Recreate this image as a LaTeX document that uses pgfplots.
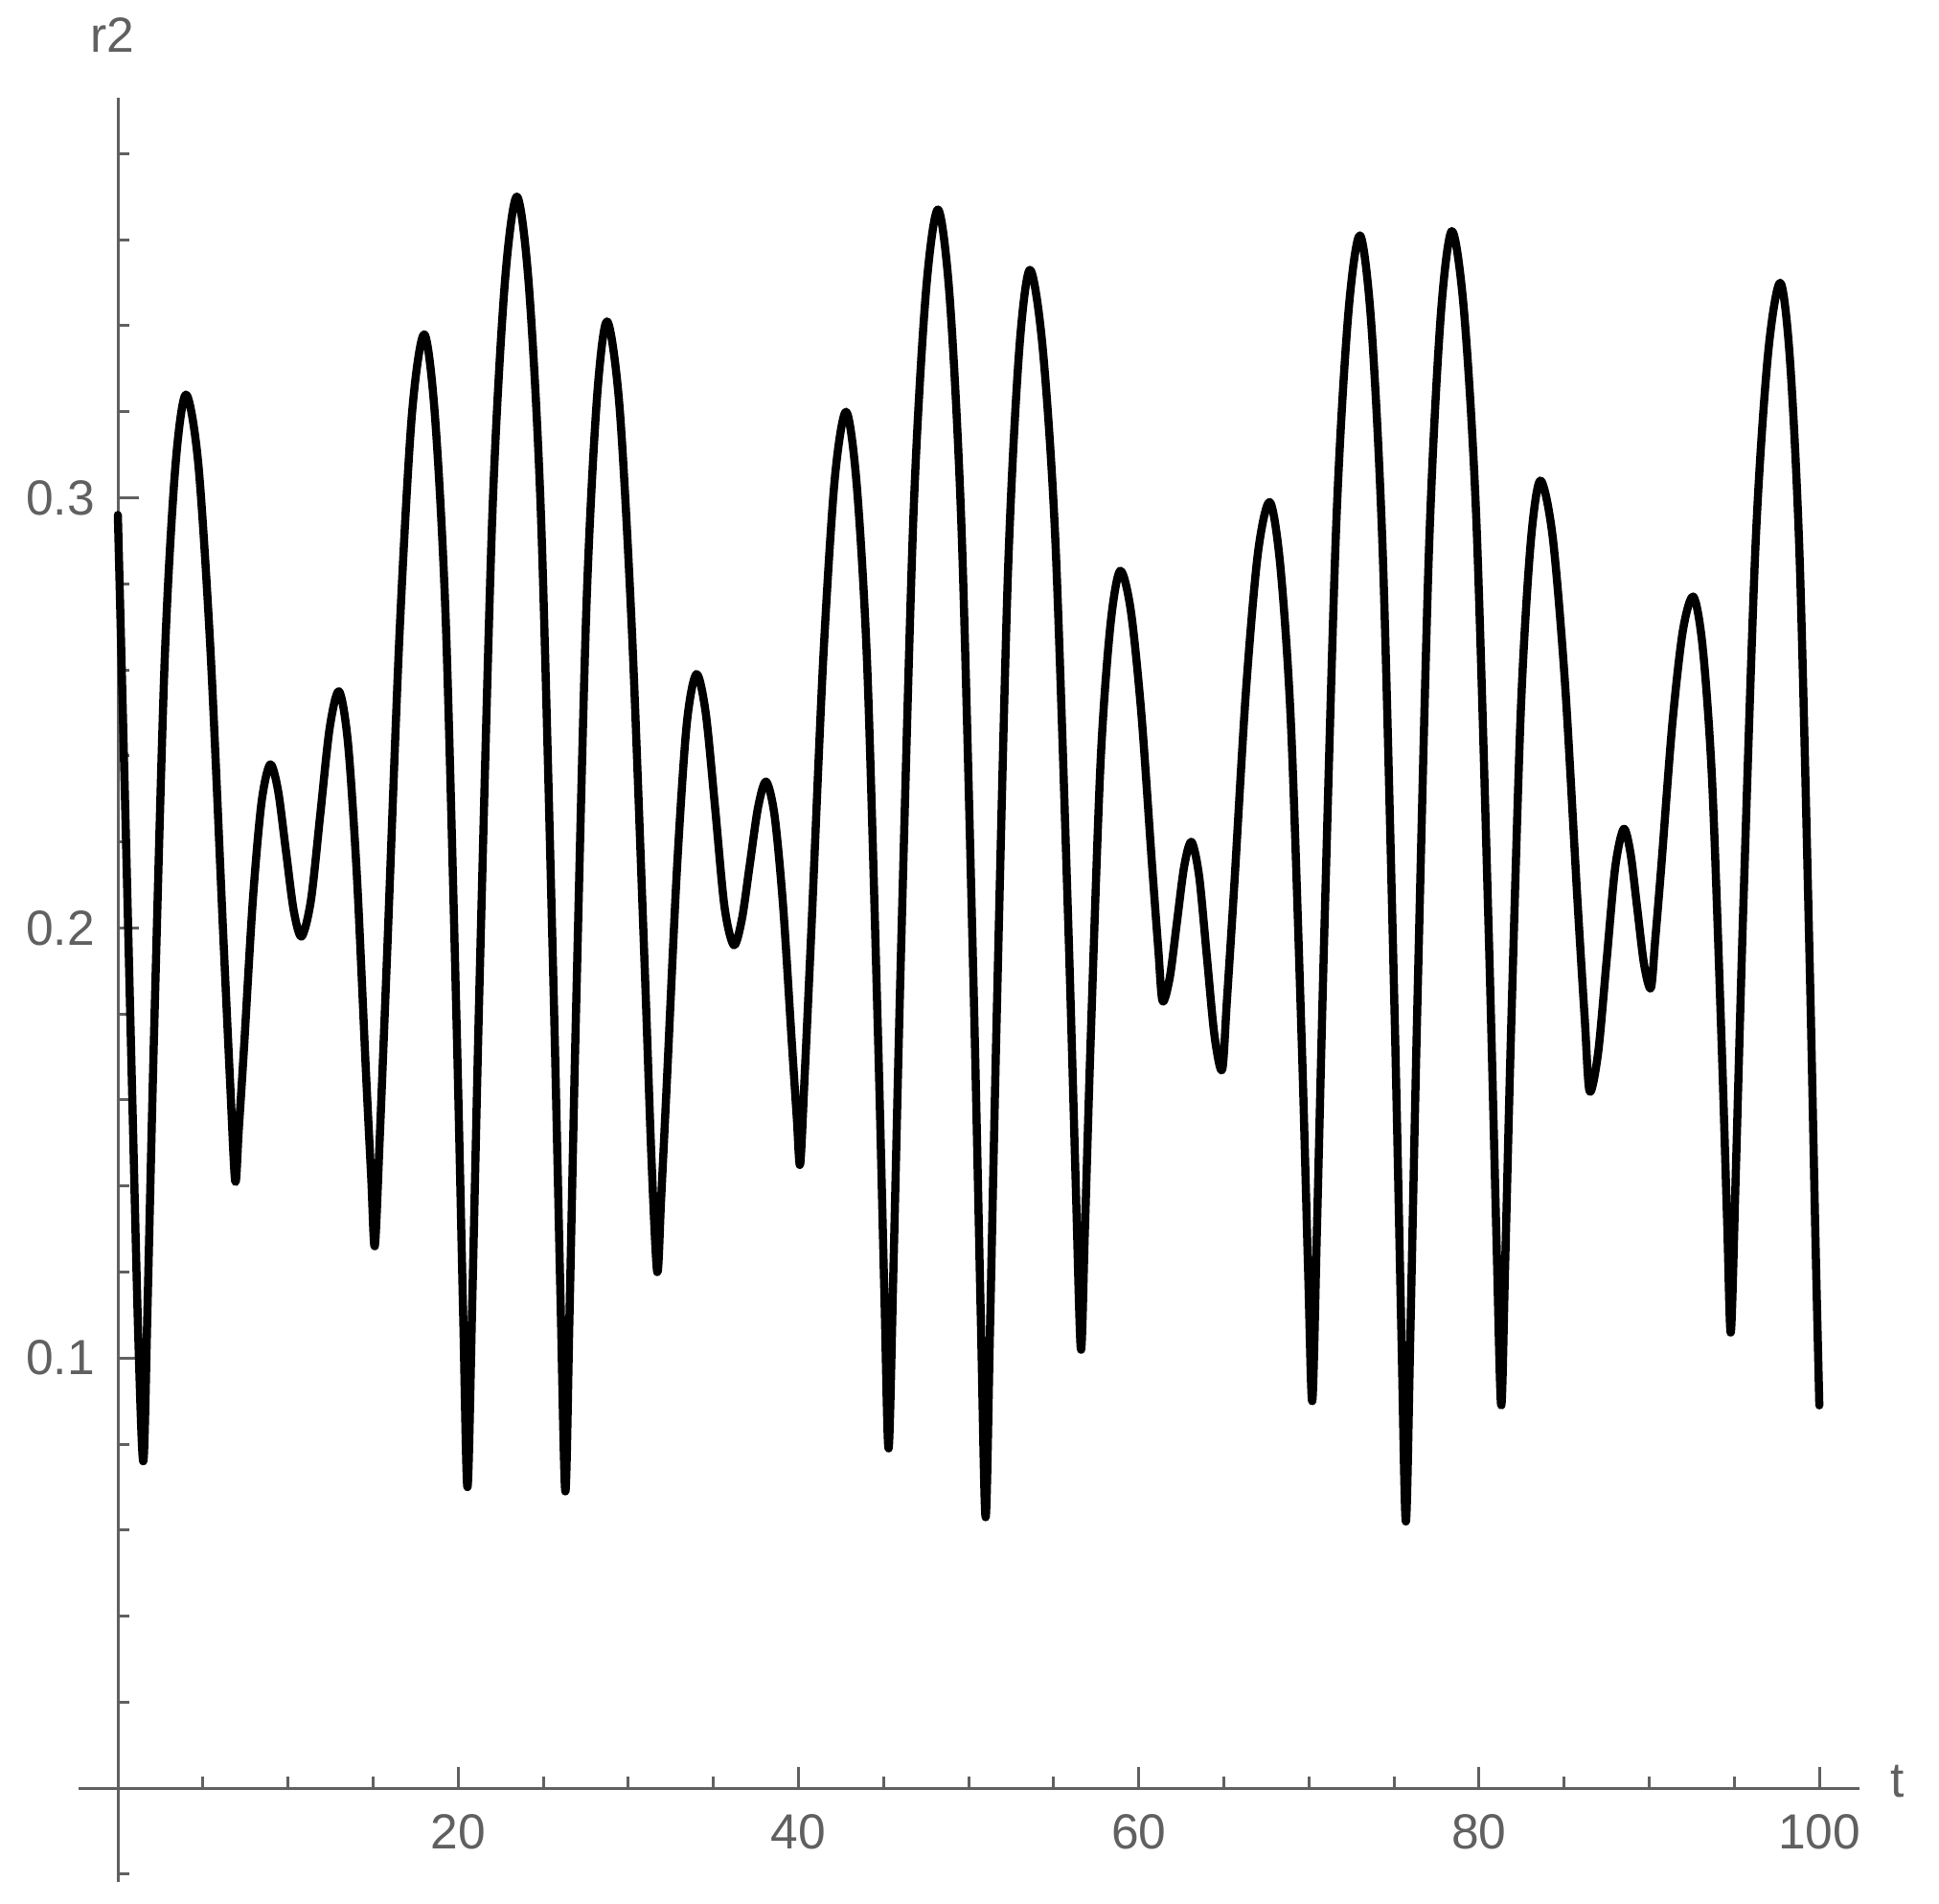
\documentclass[border=0pt]{standalone}
\usepackage{fontspec}
\setmainfont{Liberation Sans}
\usepackage{pgfplots}
\pgfplotsset{compat=1.18}
\definecolor{axgray}{HTML}{606060}

\begin{document}
\fontsize{10.3pt}{12pt}\selectfont
\begin{tikzpicture}
\begin{axis}[
  name=ax,
  scale only axis,
  width=371.8pt, height=372.4pt,
  xmin=-2.31, xmax=102.36, ymin=-0.0218, ymax=0.393,
  axis lines=middle,
  axis line style={axgray, line width=0.6pt, -},
  tick align=inside,
  tick style={axgray, line width=0.6pt},
  major tick length=4.4pt, minor tick length=2.4pt,
  xtick={20,40,60,80,100},
  minor xtick={5,10,15,25,30,35,45,50,55,65,70,75,85,90,95},
  ytick={0.1,0.2,0.3},
  minor ytick={-0.02,0.02,0.04,0.06,0.08,0.12,0.14,0.16,0.18,0.22,0.24,0.26,0.28,0.32,0.34,0.36,0.38},
  /pgf/number format/assume math mode=true,
  tick label style={text=axgray},
  xticklabel style={yshift=-1.8pt},
  yticklabel style={xshift=-1.2pt, /pgf/number format/fixed},
  xlabel={t}, ylabel={r2},
  every axis x label/.style={at={(axis description cs:1,0.0526)}, anchor=west, text=axgray, xshift=2.8pt, yshift=1.4pt},
  every axis y label/.style={at={(axis description cs:0.02207,1)}, anchor=center, text=axgray, xshift=-1.1pt, yshift=13pt},
]
\addplot[black, line width=1.7pt, line join=round, line cap=round, smooth] coordinates {
(0,0.296) (0.45,0.225) (0.85,0.16) (1.2,0.105) (1.5,0.076)
(1.75,0.113) (2.125,0.175) (2.75,0.262) (3.375,0.307) (4.0,0.324)
(4.725,0.308) (5.45,0.264) (6.175,0.200) (6.61,0.163) (6.9,0.141)
(7.105,0.153) (7.4125,0.172) (7.925,0.206) (8.4375,0.229) (8.95,0.238)
(9.4125,0.232) (9.875,0.218) (10.3375,0.204) (10.8,0.198)
(11.35,0.2065) (11.9,0.2265) (12.45,0.2465) (13.0,0.255)
(13.525,0.243) (14.05,0.212) (14.575,0.167) (14.89,0.142) (15.1,0.126)
(15.39,0.151) (15.825,0.194) (16.55,0.268) (17.275,0.319) (18.0,0.338)
(18.6375,0.319) (19.275,0.271) (19.9125,0.177) (20.295,0.110) (20.55,0.070)
(20.84,0.115) (21.275,0.190) (22.0,0.295) (22.725,0.349) (23.45,0.370)
(24.1625,0.349) (24.875,0.295) (25.5875,0.189) (26.015,0.114) (26.3,0.069)
(26.545,0.110) (26.9125,0.178) (27.525,0.273) (28.1375,0.322) (28.75,0.341)
(29.4875,0.321) (30.225,0.268) (30.9625,0.191) (31.355,0.147) (31.7,0.120)
(31.93,0.137) (32.275,0.165) (32.85,0.213) (33.425,0.247) (34.0,0.259)
(34.55,0.250) (35.1,0.228) (35.65,0.205) (36.2,0.196)
(36.675,0.202) (37.15,0.215) (37.625,0.228) (38.1,0.234)
(38.6,0.226) (39.1,0.205) (39.6,0.174) (39.9,0.156) (40.1,0.145)
(40.37,0.166) (40.775,0.201) (41.45,0.262) (42.125,0.304) (42.8,0.320)
(43.425,0.303) (44.05,0.260) (44.675,0.175) (45.05,0.115) (45.3,0.079)
(45.59,0.122) (46.025,0.194) (46.75,0.295) (47.475,0.347) (48.2,0.367)
(48.9,0.346) (49.6,0.291) (50.3,0.185) (50.72,0.109) (51.0,0.063)
(51.26,0.107) (51.65,0.179) (52.3,0.281) (52.95,0.333) (53.6,0.353)
(54.35,0.335) (55.1,0.290) (55.85,0.202) (56.3,0.140) (56.6,0.102)
(56.83,0.129) (57.175,0.174) (57.75,0.238) (58.325,0.270) (58.9,0.283)
(59.525,0.274) (60.15,0.250) (60.775,0.215) (61.15,0.195) (61.4,0.183)
(61.825,0.1885) (62.25,0.2015) (62.675,0.2144) (63.1,0.220)
(63.55,0.212) (64.0,0.1935) (64.45,0.175) (64.9,0.167)
(65.18,0.183) (65.6,0.209) (66.3,0.255) (67.0,0.287) (67.7,0.299)
(68.325,0.284) (68.95,0.247) (69.575,0.174) (69.95,0.121) (70.2,0.090)
(70.48,0.131) (70.9,0.198) (71.6,0.293) (72.3,0.342) (73.0,0.361)
(73.675,0.340) (74.35,0.286) (75.025,0.182) (75.43,0.107) (75.7,0.062)
(75.97,0.107) (76.375,0.182) (77.05,0.287) (77.725,0.341) (78.4,0.362)
(79.125,0.343) (79.85,0.294) (80.575,0.198) (81.01,0.130) (81.3,0.089)
(81.53,0.121) (81.875,0.175) (82.45,0.250) (83.025,0.289) (83.6,0.304)
(84.325,0.291) (85.05,0.257) (85.775,0.207) (86.21,0.179) (86.5,0.162)
(87.0,0.171) (87.5,0.1925) (88.0,0.214) (88.5,0.223)
(88.9,0.2174) (89.3,0.2045) (89.7,0.1915) (90.1,0.186)
(90.35,0.197) (90.725,0.215) (91.35,0.247) (91.975,0.269) (92.6,0.277)
(93.15,0.265) (93.7,0.234) (94.25,0.174) (94.58,0.132) (94.8,0.106)
(95.09,0.143) (95.525,0.204) (96.25,0.289) (96.975,0.333) (97.7,0.350)
(98.275,0.332) (98.85,0.285) (99.425,0.193) (99.77,0.128) (100,0.089)
};
\end{axis}
\pgfresetboundingbox
\useasboundingbox ([shift={(-16.4pt,-4.4pt)}]ax.south west) rectangle ([shift={(16.6pt,20.4pt)}]ax.north east);
\end{tikzpicture}
\end{document}
